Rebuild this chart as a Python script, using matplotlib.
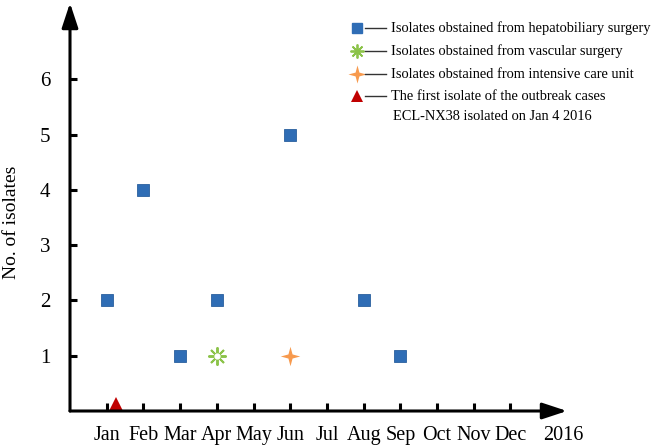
import numpy as np
import matplotlib.pyplot as plt
from matplotlib.path import Path

plt.rcParams['font.family'] = ['Liberation Serif', 'DejaVu Serif']

months = ['Jan', 'Feb', 'Mar', 'Apr', 'May', 'Jun', 'Jul', 'Aug', 'Sep', 'Oct', 'Nov', 'Dec']
# month index (Jan = 1)
hep_x = [1, 2, 3, 4, 6, 8, 9]
hep_y = [2, 4, 1, 2, 5, 2, 1]
vasc_x = [4]
vasc_y = [1]
icu_x = [6]
icu_y = [1]
first_x = [1.25]   # Jan 4
first_y = [0.12]

legend_labels = ['Isolates obstained from hepatobiliary surgery',
                 'Isolates obstained from vascular surgery',
                 'Isolates obstained from intensive care unit',
                 'The first isolate of the outbreak cases']
legend_extra = 'ECL-NX38 isolated on Jan 4 2016'

c_blue = '#2f6db5'
c_green = '#8cc34a'
c_orange = '#f79a4e'
c_red = '#c00000'

# 4 pointed sparkle star
ang = np.linspace(0, 2 * np.pi, 9)[:-1] + np.pi / 2
rad = np.where(np.arange(8) % 2 == 0, 1.0, 0.3)
star_verts = np.column_stack([rad * np.cos(ang), rad * np.sin(ang)])
star_verts = np.vstack([star_verts, star_verts[:1]])
star4 = Path(star_verts, closed=True)

fig = plt.figure(figsize=(6.54, 4.46), dpi=100)
ax = fig.add_axes([70 / 654, 35 / 446, 497 / 654, 408 / 446])
ax.set_xlim(0, 13.54)
ax.set_ylim(0, 7.38)
for s in ax.spines.values():
    s.set_visible(False)

# axes with arrows
arrow = dict(arrowstyle='-|>,head_length=1.0,head_width=0.33', lw=2.2, color='black',
             shrinkA=0, shrinkB=0, mutation_scale=15)
ax.annotate('', xy=(1, 0), xytext=(0, 0), xycoords='axes fraction', arrowprops=arrow)
ax.annotate('', xy=(0, 1), xytext=(0, 0), xycoords='axes fraction', arrowprops=arrow)

ax.set_xticks(list(range(1, 13)) + [13.45])
ax.set_xticklabels(months + ['2016'])
ax.xaxis.get_major_ticks()[12].tick1line.set_visible(False)
ax.set_yticks(range(1, 7))
ax.tick_params(axis='x', direction='in', length=6, width=2.2, labelsize=14.5, pad=11)
ax.tick_params(axis='y', direction='in', length=5, width=2.2, labelsize=15, pad=14)
fig.text(12 / 654, 1 - 222 / 446, 'No. of isolates', rotation=90, ha='center', va='center', fontsize=14)

ax.plot(hep_x, hep_y, 's', color=c_blue, markersize=8, markeredgecolor='#2a5f9e', markeredgewidth=0.6, clip_on=False)
ax.plot(vasc_x, vasc_y, marker=(8, 2, 0), ls='none', color=c_green, markersize=13, markeredgewidth=1.4, clip_on=False)
ax.plot(vasc_x, vasc_y, 'o', color='white', markersize=3.5, clip_on=False)
ax.plot(icu_x, icu_y, marker=star4, ls='none', color=c_orange, markersize=14, markeredgewidth=0, clip_on=False)
ax.plot(first_x, first_y, '^', color=c_red, markersize=10, markeredgewidth=0, clip_on=False)

# legend drawn by hand in figure pixels
rows = [28, 51, 74, 96]
mx = 357
for i, y in enumerate(rows):
    fy = 1 - y / 446
    if i == 0:
        fig.lines.append(plt.Line2D([mx / 654], [fy], marker='s', color=c_blue, markersize=7, transform=fig.transFigure))
    elif i == 1:
        fig.lines.append(plt.Line2D([mx / 654], [fy], marker=(8, 2, 0), color=c_green, markersize=10,
                                    markeredgewidth=1.3, transform=fig.transFigure))
    elif i == 2:
        fig.lines.append(plt.Line2D([mx / 654], [fy], marker=star4, color=c_orange, markersize=13,
                                    markeredgewidth=0, transform=fig.transFigure))
    else:
        fig.lines.append(plt.Line2D([mx / 654], [fy], marker='^', color=c_red, markersize=9,
                                    markeredgewidth=0, transform=fig.transFigure))
    fig.lines.append(plt.Line2D([365 / 654, 386 / 654], [fy, fy], color='#333333', lw=1.0, transform=fig.transFigure))
    fig.text(391 / 654, fy, legend_labels[i], ha='left', va='center', fontsize=10.4)
fig.text(393 / 654, 1 - 117 / 446, legend_extra, ha='left', va='center', fontsize=10.4)

fig.savefig('out.png', dpi=100)
